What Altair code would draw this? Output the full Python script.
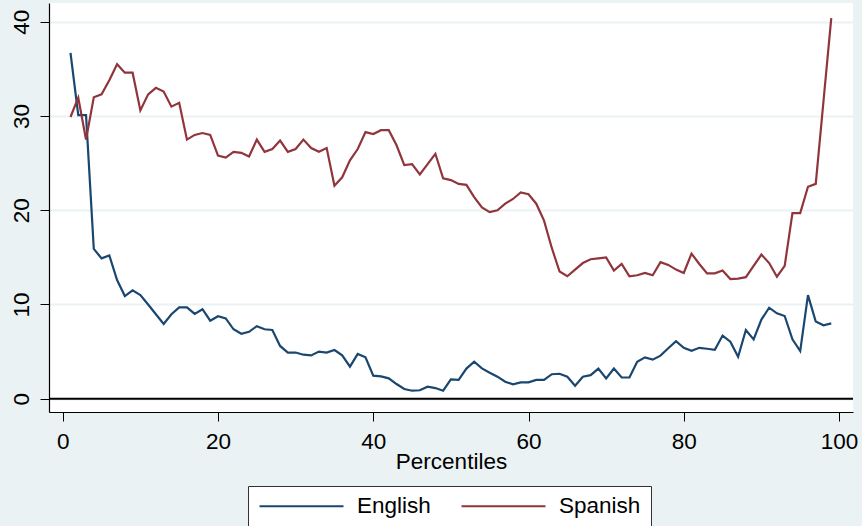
import altair as alt
import pandas as pd

# Percentile positions 1..99
percentiles = list(range(1, 100))

english = [
    36.7, 30.1, 30.1, 15.9, 14.9, 15.2, 12.6, 10.9, 11.5, 11.0,
    10.0, 8.96, 7.93, 8.96, 9.7, 9.7, 9.0, 9.5, 8.28, 8.75,
    8.53, 7.37, 6.9, 7.1, 7.7, 7.37, 7.3, 5.6, 4.9, 4.9,
    4.67, 4.6, 5.0, 4.9, 5.17, 4.6, 3.4, 4.75, 4.4, 2.45,
    2.37, 2.16, 1.56, 1.03, 0.85, 0.9, 1.27, 1.13, 0.85, 2.05,
    2.0, 3.2, 3.93, 3.22, 2.76, 2.34, 1.8, 1.53, 1.74, 1.74,
    2.0, 2.0, 2.6, 2.65, 2.34, 1.38, 2.34, 2.5, 3.2, 2.16,
    3.2, 2.25, 2.25, 3.93, 4.39, 4.15, 4.57, 5.35, 6.1, 5.4,
    5.08, 5.4, 5.3, 5.2, 6.7, 6.05, 4.46, 7.3, 6.3, 8.4,
    9.66, 9.06, 8.78, 6.3, 5.06, 11.0, 8.2, 7.8, 8.0,
]

spanish = [
    29.9, 31.95, 27.5, 32.0, 32.3, 33.8, 35.5, 34.6, 34.6, 30.6,
    32.3, 33.0, 32.6, 31.0, 31.4, 27.5, 28.0, 28.2, 28.0, 25.8,
    25.6, 26.2, 26.1, 25.7, 27.5, 26.2, 26.5, 27.4, 26.2, 26.5,
    27.5, 26.6, 26.2, 26.6, 22.6, 23.5, 25.3, 26.5, 28.3, 28.1,
    28.5, 28.5, 26.9, 24.8, 24.9, 23.8, 24.9, 26.0, 23.4, 23.2,
    22.8, 22.7, 21.4, 20.3, 19.8, 20.0, 20.7, 21.2, 21.9, 21.7,
    20.7, 18.9, 16.0, 13.5, 13.0, 13.7, 14.4, 14.8, 14.9, 15.0,
    13.6, 14.3, 13.0, 13.1, 13.35, 13.1, 14.5, 14.2, 13.7, 13.35,
    15.4, 14.3, 13.3, 13.3, 13.6, 12.7, 12.75, 12.9, 14.1, 15.3,
    14.4, 12.95, 14.1, 19.7, 19.7, 22.5, 22.8, 31.6, 40.4,
]

series_names = ["English", "Spanish"]
series_colors = ["#1A476F", "#90353B"]
x_ticks = [0, 20, 40, 60, 80, 100]
y_ticks = [0, 10, 20, 30, 40]

df = pd.concat([
    pd.DataFrame({"pct": percentiles, "value": english, "series": "English"}),
    pd.DataFrame({"pct": percentiles, "value": spanish, "series": "Spanish"}),
])

FONT = "Liberation Sans"
BG = "#EAF2F3"

x_enc = alt.X(
    "pct:Q",
    scale=alt.Scale(domain=[-1.77, 101.8], nice=False, zero=False),
    axis=alt.Axis(
        values=x_ticks, title="Percentiles", grid=False,
        labelFontSize=22.5, labelFont=FONT, labelColor="black",
        labelBaseline="alphabetic", labelPadding=27,
        tickSize=9, tickColor="black", domainColor="black", domainWidth=1.2,
        titleFontSize=22.5, titleFont=FONT, titleFontWeight="normal",
        titleColor="black", titleBaseline="alphabetic", titleY=56,
    ),
)

y_enc = alt.Y(
    "value:Q",
    scale=alt.Scale(domain=[-1.41, 42.0], nice=False, zero=False),
    axis=alt.Axis(
        values=y_ticks, title=None, grid=True, gridColor=BG, gridWidth=2,
        labelFontSize=22.5, labelFont=FONT, labelColor="black",
        labelAngle=-90, labelAlign="center", labelBaseline="alphabetic",
        labelPadding=12,
        tickSize=9, tickColor="black", domainColor="black", domainWidth=1.2,
    ),
)

lines = alt.Chart(df).mark_line(strokeWidth=2.2).encode(
    x=x_enc,
    y=y_enc,
    color=alt.Color(
        "series:N",
        scale=alt.Scale(domain=series_names, range=series_colors),
        legend=alt.Legend(
            title=None, orient="none", legendX=199, legendY=483,
            direction="horizontal", columns=2,
            fillColor="white", strokeColor="#333333", padding=10,
            symbolType="stroke", symbolSize=7056, symbolStrokeWidth=2.2,
            clipHeight=20, labelFontSize=22.5, labelFont=FONT,
            labelColor="black", labelOffset=12, columnPadding=29,
        ),
    ),
)

zero_line = alt.Chart(pd.DataFrame({"y": [0]})).mark_rule(
    color="black", strokeWidth=2
).encode(y="y:Q")

chart = alt.layer(lines, zero_line).properties(
    width=804,
    height=409,
    autosize=alt.AutoSizeParams(type="none"),
    padding={"left": 49, "top": 3, "right": 9, "bottom": 114},
    background=BG,
).configure_view(
    fill="white", stroke=None
)

chart.save("out.html", embed_options={"renderer": "svg", "actions": False})
